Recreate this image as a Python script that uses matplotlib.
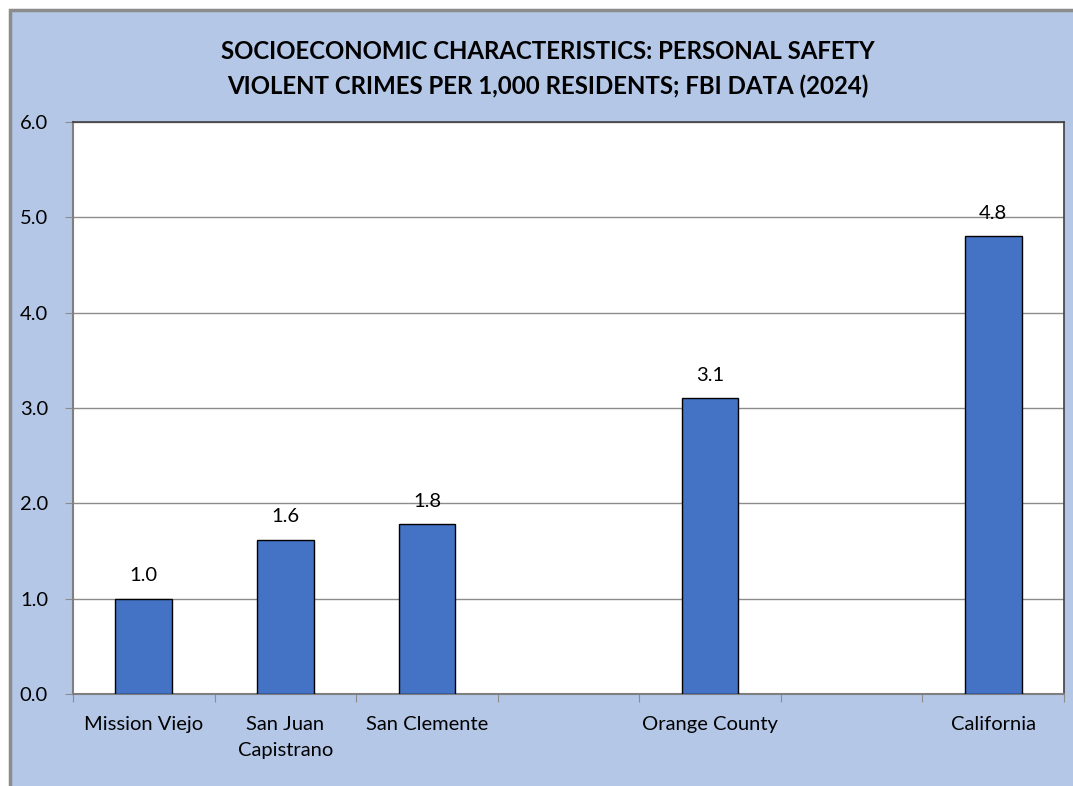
import numpy as np
import matplotlib.pyplot as plt
from matplotlib.patches import Rectangle

# Categorias (con posiciones vacias para separar ciudades, condado y estado)
Categorias = ["Mission Viejo", "San Juan\nCapistrano", "San Clemente", "", "Orange County", "", "California"]
Valores = [1.0, 1.62, 1.78, np.nan, 3.1, np.nan, 4.8]
Titulo = "SOCIOECONOMIC CHARACTERISTICS: PERSONAL SAFETY\nVIOLENT CRIMES PER 1,000 RESIDENTS; FBI DATA (2024)"

ColorFondo = "#B4C7E7"
ColorBarra = "#4472C4"
Fuente = "Lato"

W, H = 1073, 786
fig = plt.figure(figsize=[W/100, H/100], dpi=100)
fig.patch.set_facecolor("white")

# Fondo azul del grafico con borde gris arriba y a la izquierda
fondo = Rectangle((10/W, -0.1), 1.2, 1 - 10/H + 0.1, transform=fig.transFigure,
                  facecolor=ColorFondo, edgecolor="#8C8C8C", lw=2.5, zorder=-10)
fig.add_artist(fondo)

ax = fig.add_axes([73/W, 1 - 694/H, (1064-73)/W, (694-122)/H])
ax.set_facecolor("white")

x = np.arange(len(Categorias))
Valores = np.array(Valores)
hay = ~np.isnan(Valores)
ax.bar(x[hay], Valores[hay], width=0.4, color=ColorBarra, edgecolor="black", lw=1, zorder=3)
for xi, v in zip(x[hay], Valores[hay]):
    ax.text(xi, v + 0.24, f"{v:.1f}", ha="center", va="center", fontsize=14.5, family=Fuente, zorder=4)

ax.set_xlim(-0.5, len(Categorias) - 0.5)
ax.set_ylim(0, 6)
ax.set_yticks(np.arange(0, 7, 1))
ax.set_yticklabels([f"{t:.1f}" for t in np.arange(0, 7, 1)], fontsize=14.5, family=Fuente)
ax.yaxis.grid(True, color="#8C8C8C", lw=1, zorder=0)

# Marcas del eje X entre categorias
ax.set_xticks(np.arange(-0.5, len(Categorias)), minor=False)
ax.set_xticklabels([])
ax.set_xticks(x, minor=True)
ax.set_xticklabels(Categorias, minor=True, fontsize=14.5, family=Fuente, linespacing=1.6)
ax.tick_params(axis="x", which="minor", length=0, pad=16)
ax.tick_params(axis="x", which="major", length=6, color="#8C8C8C", direction="out")
ax.tick_params(axis="y", length=6, color="#8C8C8C", pad=12)

for lado in ["top", "right"]:
    ax.spines[lado].set_color("#404040")
    ax.spines[lado].set_linewidth(1.2)
for lado in ["left", "bottom"]:
    ax.spines[lado].set_color("#7F7F7F")
    ax.spines[lado].set_linewidth(1.5)

fig.text(548/W, 1 - 69/H, Titulo, ha="center", va="center", fontsize=17.3, fontweight="bold",
         family=Fuente, linespacing=1.6)

fig.savefig("out.png", dpi=100, facecolor=fig.get_facecolor())
